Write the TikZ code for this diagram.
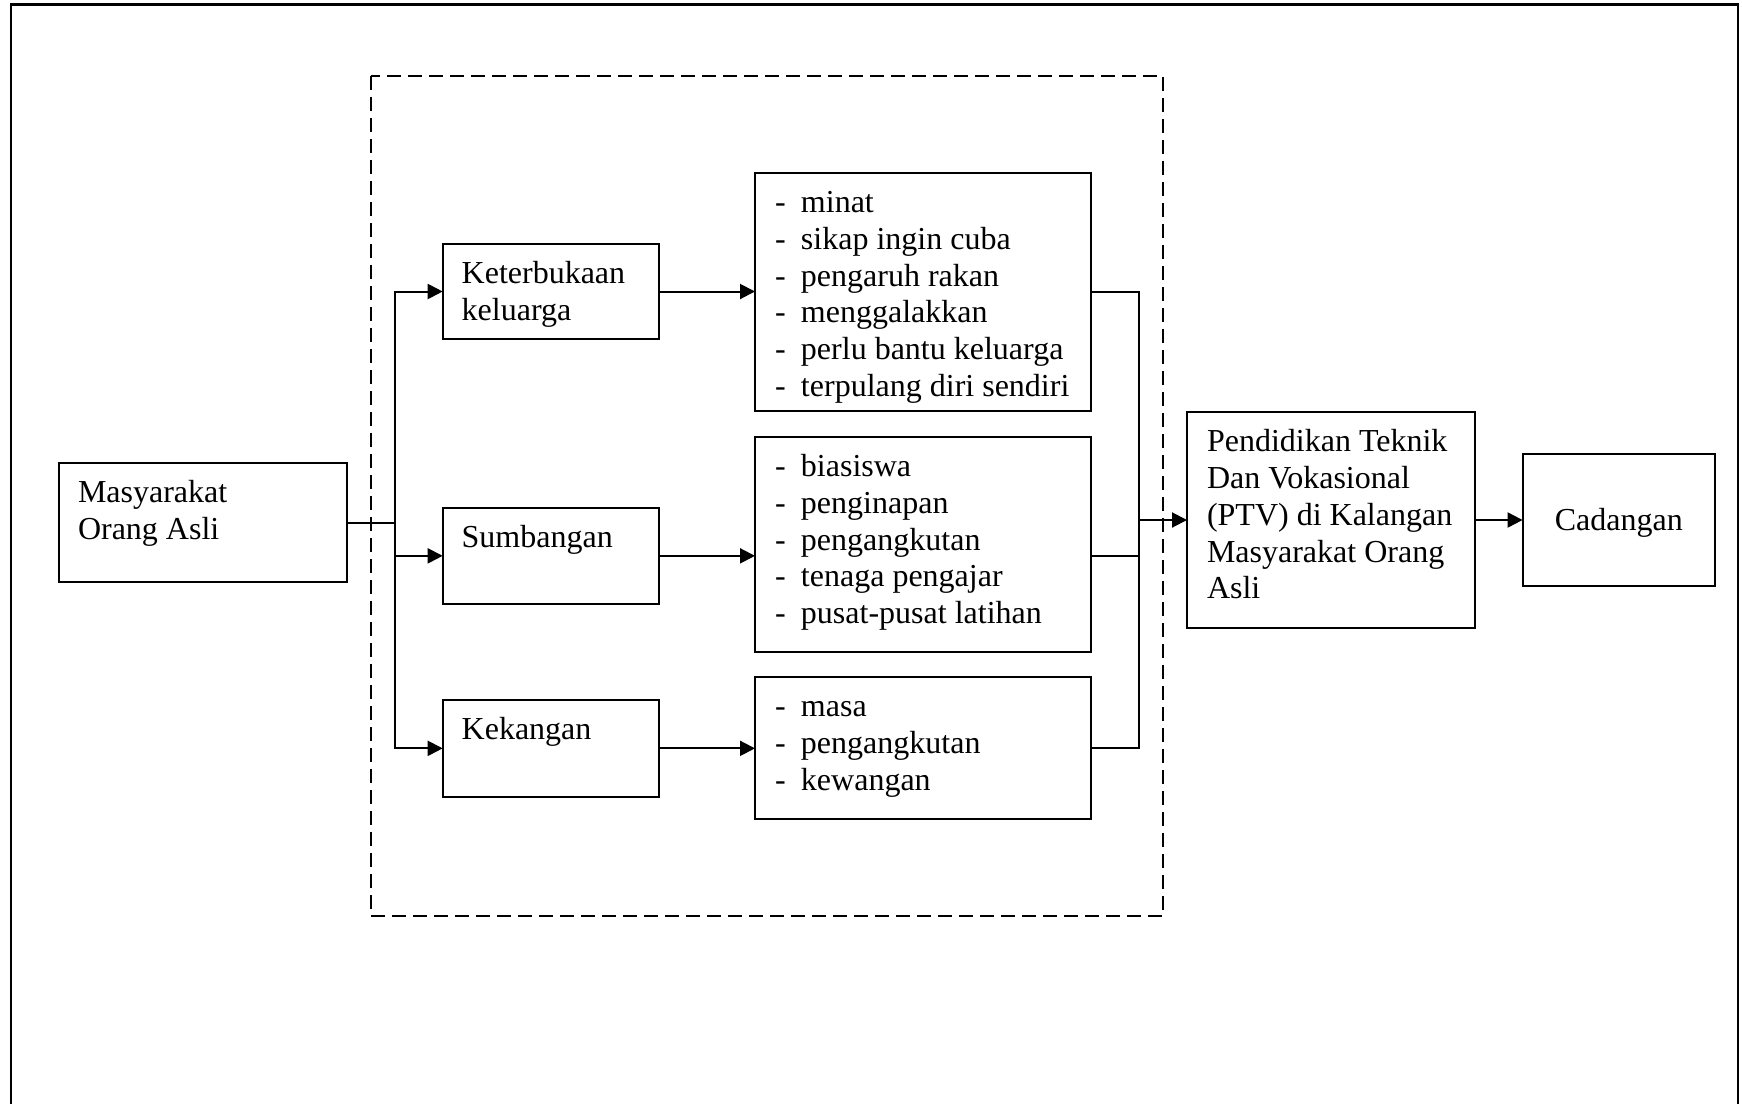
\documentclass[tikz,border=0pt]{standalone}
\usepackage{fontspec}
\setmainfont{Liberation Serif}
\usetikzlibrary{arrows.meta}
\newcommand{\lsitem}[1]{\makebox[13.5pt][l]{\hspace{0.6pt}-}#1}
\begin{document}
\begin{tikzpicture}[x=0.5pt,y=-0.5pt,
  bx/.style={draw, line width=1.1pt, inner sep=0pt, outer sep=0pt, anchor=north west},
  txt/.style={anchor=north west, inner sep=0pt, outer sep=0pt, align=left, font=\fontsize{16pt}{18.4pt}\selectfont},
  conn/.style={line width=1pt, line cap=rect},
  arr/.style={line width=1pt, -{Triangle[length=7.5pt,width=7.5pt]}},
  ]
\useasboundingbox (0,0) rectangle (1742,1104);
% outer frame (open at the bottom)
\draw[line width=1.2pt] (11,1104) -- (11,4.5) -- (1738,4.5) -- (1738,1104);
% dashed group
\draw[line width=1pt, dash pattern=on 7pt off 3.5pt] (371,76) rectangle (1163,916);

% boxes
\node[bx, minimum width=144pt, minimum height=59.5pt] (masy) at (59,463) {};
\node[txt] (masyT) at ([xshift=9.5pt,yshift=-7pt]masy.north west) {\strut Masyarakat\\Orang Asli};

\node[bx, minimum width=108.15pt, minimum height=47.5pt] (ket) at (442.7,244) {};
\node[txt] (ketT) at ([xshift=9.5pt,yshift=-7pt]ket.north west) {\strut Keterbukaan\\keluarga};

\node[bx, minimum width=108.15pt, minimum height=47.85pt] (sum) at (442.7,508) {};
\node[txt] (sumT) at ([xshift=9.5pt,yshift=-7pt]sum.north west) {\strut Sumbangan};

\node[bx, minimum width=108.15pt, minimum height=48.35pt] (kek) at (442.7,700) {};
\node[txt] (kekT) at ([xshift=9.5pt,yshift=-7pt]kek.north west) {\strut Kekangan};

\node[bx, minimum width=168pt, minimum height=119pt] (l1) at (755,172.7) {};
\node[txt] (l1T) at ([xshift=9.5pt,yshift=-7pt]l1.north west)
  {\strut\lsitem{minat}\\\lsitem{sikap ingin cuba}\\\lsitem{pengaruh rakan}\\\lsitem{menggalakkan}\\\lsitem{perlu bantu keluarga}\\\lsitem{terpulang diri sendiri}};

\node[bx, minimum width=168pt, minimum height=107.5pt] (l2) at (755,436.7) {};
\node[txt] (l2T) at ([xshift=9.5pt,yshift=-7pt]l2.north west)
  {\strut\lsitem{biasiswa}\\\lsitem{penginapan}\\\lsitem{pengangkutan}\\\lsitem{tenaga pengajar}\\\lsitem{pusat-pusat latihan}};

\node[bx, minimum width=168pt, minimum height=71.15pt] (l3) at (755,676.7) {};
\node[txt] (l3T) at ([xshift=9.5pt,yshift=-7pt]l3.north west)
  {\strut\lsitem{masa}\\\lsitem{pengangkutan}\\\lsitem{kewangan}};

\node[bx, minimum width=144pt, minimum height=108pt] (ptv) at (1187,412) {};
\node[txt] (ptvT) at ([xshift=10pt,yshift=-7pt]ptv.north west)
  {\strut Pendidikan Teknik\\Dan Vokasional\\(PTV) di Kalangan\\Masyarakat Orang\\Asli};

\node[bx, minimum width=96.2pt, minimum height=65.85pt, font=\fontsize{16pt}{18.4pt}\selectfont, text depth=0pt] (cad) at (1522.6,454) {Cadangan};

% connectors
\coordinate (tl) at (394.5,0);
\coordinate (tr) at (1138.5,0);
\draw[conn] (masy.east) -- (masy.east -| tl);
\draw[conn] (tl |- ket.west) -- (tl |- kek.west);
\draw[arr] (tl |- ket.west) -- (ket.west);
\draw[arr] (tl |- sum.west) -- (sum.west);
\draw[arr] (tl |- kek.west) -- (kek.west);

\draw[arr] (ket.east) -- (ket.east -| l1.west);
\draw[arr] (sum.east) -- (sum.east -| l2.west);
\draw[arr] (kek.east) -- (kek.east -| l3.west);

\draw[conn] (l1.east) -- (l1.east -| tr);
\draw[conn] (sum.east -| l2.east) -- (sum.east -| tr);
\draw[conn] (l3.east) -- (l3.east -| tr);
\draw[conn] (tr |- l1.east) -- (tr |- l3.east);
\draw[arr] (tr |- ptv.west) -- (ptv.west);
\draw[arr] (ptv.east) -- (ptv.east -| cad.west);
\end{tikzpicture}
\end{document}
